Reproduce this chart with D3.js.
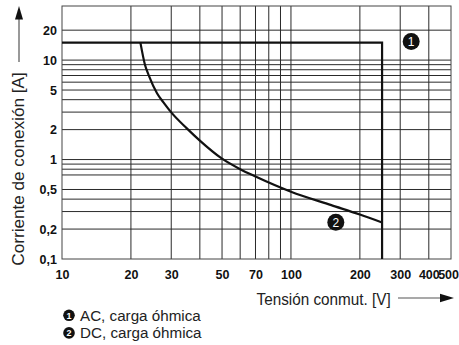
<!DOCTYPE html>
<html>
<head>
<meta charset="utf-8">
<script src="https://cdn.jsdelivr.net/npm/d3@7"></script>
<style>
  html, body { margin: 0; padding: 0; background: #fff; }
  svg { display: block; font-family: "Liberation Sans", Arial, Helvetica, sans-serif; }
</style>
</head>
<body>
<svg id="chart" width="459" height="345"></svg>
<script>
// Switching voltage (V) and current limits (A)
const xDomain = [10, 500];
const yDomain = [0.1, 35];

const xTicks = [10, 20, 30, 50, 70, 100, 200, 300, 400, 500];
const xGrid = [20, 30, 40, 50, 60, 70, 80, 90, 100, 200, 300, 400];
const yTicks = [0.1, 0.2, 0.5, 1, 2, 5, 10, 20];
const yGrid = [0.2, 0.3, 0.4, 0.5, 0.7, 0.8, 0.9, 1, 2, 3, 4, 5, 6, 7, 8, 9, 10, 20];

// Curve 1: AC, resistive load
const acVoltage = [10, 250, 250];
const acCurrent = [15, 15, 0.1];

// Curve 2: DC, resistive load
const dcVoltage = [22, 23, 24, 26, 28, 30, 35, 40, 50, 60, 70, 100, 150, 200, 250];
const dcCurrent = [15, 9.1, 6.9, 4.65, 3.65, 2.98, 2.07, 1.55, 1.02, 0.80, 0.675, 0.475, 0.348, 0.28, 0.233];

// Curve markers placed in data space
const markerLabels = ["1", "2"];
const markerVoltage = [335, 157];
const markerCurrent = [15.4, 0.234];

const legendLabels = ["AC, carga óhmica", "DC, carga óhmica"];
const xTitle = "Tensión conmut. [V]";
const yTitle = "Corriente de conexión [A]";

const margin = { top: 6, right: 8, bottom: 86, left: 62 };
const W = 459, H = 345;
const svg = d3.select("#chart");

const x = d3.scaleLog().domain(xDomain).range([margin.left, W - margin.right]);
const y = d3.scaleLog().domain(yDomain).range([H - margin.bottom, margin.top]);

const fmt = d => String(d).replace(".", ",");

// grid
const grid = svg.append("g").attr("stroke", "#2a2a2a").attr("stroke-width", 1);
grid.selectAll("line.v").data(xGrid).join("line")
  .attr("x1", d => x(d)).attr("x2", d => x(d))
  .attr("y1", y.range()[0]).attr("y2", y.range()[1]);
grid.selectAll("line.h").data(yGrid).join("line")
  .attr("y1", d => y(d)).attr("y2", d => y(d))
  .attr("x1", x.range()[0]).attr("x2", x.range()[1]);

// frame
svg.append("rect")
  .attr("x", x.range()[0]).attr("y", y.range()[1])
  .attr("width", x.range()[1] - x.range()[0])
  .attr("height", y.range()[0] - y.range()[1])
  .attr("fill", "none").attr("stroke", "#444").attr("stroke-width", 1);

// curves
const line = d3.line().x(d => x(d[0])).y(d => y(d[1]));
svg.append("path")
  .datum(d3.zip(acVoltage, acCurrent))
  .attr("d", line)
  .attr("fill", "none").attr("stroke", "#111").attr("stroke-width", 2.2);

svg.append("path")
  .datum(d3.zip(dcVoltage, dcCurrent))
  .attr("d", line.curve(d3.curveMonotoneX))
  .attr("fill", "none").attr("stroke", "#111").attr("stroke-width", 2.2);

// tick labels
const xAxis = d3.axisBottom(x).tickValues(xTicks).tickFormat(fmt).tickSize(0).tickPadding(11);
const gx = svg.append("g").attr("transform", `translate(0,${y.range()[0]})`).call(xAxis);
gx.select(".domain").remove();
gx.selectAll("text").attr("font-size", 12.5).attr("font-weight", "bold")
  .attr("fill", "#111").attr("font-family", "Liberation Sans, Arial, sans-serif");
// last label sits flush against the right edge
gx.selectAll(".tick").filter(d => d === xDomain[1]).select("text")
  .attr("text-anchor", "end").attr("x", W - 0.5 - x(xDomain[1]));

const yAxis = d3.axisLeft(y).tickValues(yTicks).tickFormat(fmt).tickSize(0).tickPadding(5);
const gy = svg.append("g").attr("transform", `translate(${x.range()[0]},0)`).call(yAxis);
gy.select(".domain").remove();
gy.selectAll("text").attr("font-size", 12.5).attr("font-weight", "bold")
  .attr("fill", "#111").attr("font-family", "Liberation Sans, Arial, sans-serif");

// curve markers
const mk = svg.selectAll("g.marker").data(markerLabels).join("g")
  .attr("transform", (d, i) => `translate(${x(markerVoltage[i])},${y(markerCurrent[i])})`);
mk.append("circle").attr("r", 8.5).attr("fill", "#111");
mk.append("text").text(d => d)
  .attr("text-anchor", "middle").attr("dy", "0.36em")
  .attr("font-size", 12).attr("fill", "#fff");

// axis titles with arrows
const arrowColor = "#555";
svg.append("text").text(xTitle)
  .attr("transform", "translate(256.5,305) scale(1,1.08)")
  .attr("font-size", 15.3).attr("fill", "#222");
svg.append("line").attr("x1", 398).attr("x2", 442).attr("y1", 298).attr("y2", 298)
  .attr("stroke", arrowColor).attr("stroke-width", 1.2);
svg.append("path").attr("d", "M440,293.8 L454,298 L440,302.2 Z").attr("fill", "#111");

svg.append("text").text(yTitle)
  .attr("transform", "translate(24,169) rotate(-90) scale(1.1,1)")
  .attr("text-anchor", "middle")
  .attr("font-size", 15.6).attr("fill", "#222");
svg.append("line").attr("x1", 19).attr("x2", 19).attr("y1", 62).attr("y2", 18)
  .attr("stroke", arrowColor).attr("stroke-width", 1.2);
svg.append("path").attr("d", "M15,19.5 L19,6 L23,19.5 Z").attr("fill", "#111");

// legend
const lg = svg.selectAll("g.legend").data(legendLabels).join("g")
  .attr("transform", (d, i) => `translate(69,${320.7 + i * 17.6})`);
lg.append("circle").attr("cy", -5.4).attr("r", 5.8).attr("fill", "#111");
lg.append("text").text((d, i) => markerLabels[i])
  .attr("text-anchor", "middle").attr("y", -5.4).attr("dy", "0.36em")
  .attr("font-size", 9).attr("font-weight", "bold").attr("fill", "#fff");
lg.append("text").text(d => d)
  .attr("x", 11).attr("font-size", 15.2).attr("fill", "#222");
</script>
</body>
</html>
